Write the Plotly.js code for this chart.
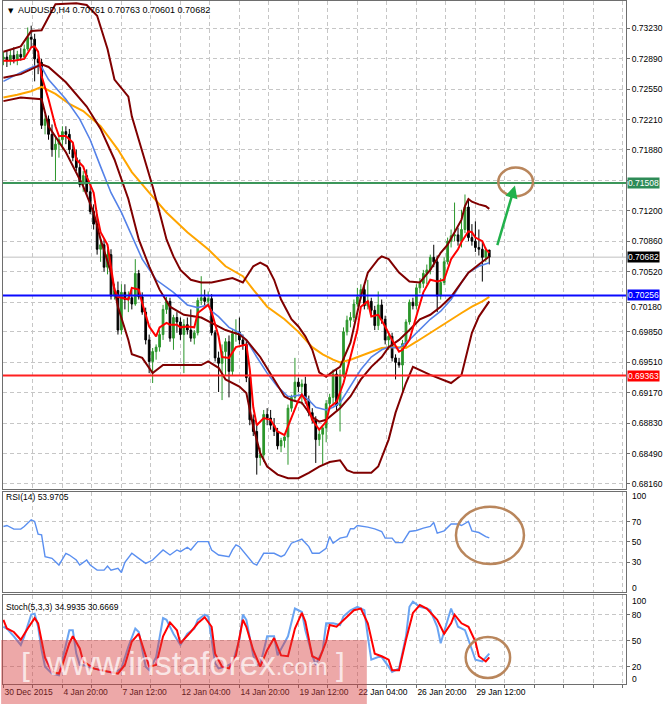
<!DOCTYPE html>
<html><head><meta charset="utf-8">
<script src="https://cdn.plot.ly/plotly-3.0.1.min.js"></script>
<style>html,body{margin:0;padding:0;background:#fff}#chart{width:665px;height:704px}</style>
</head><body><div id="chart"></div>
<script>
// ---------- price bars (AUDUSD H4) ----------
const barOpen = [0.7289,0.7291,0.7287,0.7293,0.7289,0.7294,0.7291,0.7300,0.7313,0.7311,
0.7289,0.7285,0.7215,0.7222,0.7205,0.7188,0.7194,0.7199,0.7208,0.7205,
0.7188,0.7179,0.7168,0.7149,0.7159,0.7141,0.7119,0.7105,0.7077,0.7082,
0.7057,0.7071,0.7025,0.7031,0.6987,0.7029,0.7021,0.7023,0.7016,0.7050,
0.7024,0.7007,0.6976,0.6952,0.6963,0.6968,0.6982,0.7010,0.7019,0.6978,
0.7001,0.6996,0.6982,0.6993,0.6987,0.6978,0.6984,0.7020,0.7023,0.7019,
0.7022,0.6984,0.6956,0.6950,0.6963,0.6974,0.6941,0.6983,0.6985,0.6976,
0.6971,0.6934,0.6887,0.6874,0.6845,0.6848,0.6893,0.6889,0.6881,0.6874,
0.6858,0.6864,0.6868,0.6900,0.6912,0.6929,0.6924,0.6927,0.6909,0.6895,
0.6887,0.6865,0.6871,0.6878,0.6905,0.6912,0.6938,0.6903,0.6937,0.6985,
0.6998,0.7001,0.7016,0.7024,0.7032,0.7014,0.7019,0.7009,0.6992,0.7015,
0.6999,0.6976,0.6980,0.6956,0.6951,0.6948,0.6972,0.6996,0.7018,0.7014,
0.7034,0.7039,0.7050,0.7054,0.7068,0.7063,0.7025,0.7040,0.7063,0.7086,
0.7092,0.7093,0.7086,0.7099,0.7124,0.7090,0.7086,0.7079,0.7077,0.7068,
0.70761];
const barHigh = [0.7297,0.7298,0.7300,0.7302,0.7298,0.7301,0.7305,0.7324,0.7326,0.7317,
0.7294,0.7289,0.7227,0.7226,0.7216,0.7202,0.7204,0.7214,0.7214,0.7211,
0.7194,0.7188,0.7177,0.7164,0.7166,0.7148,0.7127,0.7116,0.7090,0.7088,
0.7077,0.7077,0.7038,0.7041,0.7038,0.7038,0.7030,0.7032,0.7066,0.7054,
0.7029,0.7012,0.6982,0.6967,0.6971,0.6987,0.7015,0.7024,0.7023,0.7004,
0.7007,0.7001,0.6999,0.7001,0.7010,0.6987,0.7023,0.7047,0.7032,0.7030,
0.7027,0.6987,0.6963,0.6971,0.6978,0.6981,0.6987,0.6999,0.7001,0.6982,
0.6976,0.6938,0.6893,0.6881,0.6856,0.6898,0.6900,0.6898,0.6889,0.6878,
0.6867,0.6871,0.6904,0.6915,0.6956,0.6934,0.6932,0.6935,0.6914,0.6900,
0.6891,0.6878,0.6881,0.6909,0.6916,0.6943,0.6943,0.6943,0.6990,0.7003,
0.7007,0.7021,0.7034,0.7038,0.7037,0.7043,0.7023,0.7014,0.7030,0.7021,
0.7003,0.6983,0.6984,0.6960,0.6956,0.6976,0.6999,0.7021,0.7023,0.7038,
0.7045,0.7054,0.7060,0.7071,0.7082,0.7070,0.7045,0.7068,0.7090,0.7099,
0.7129,0.7101,0.7121,0.7138,0.7133,0.7105,0.7108,0.7099,0.7085,0.7079,
0.70763];
const barLow = [0.7282,0.7280,0.7282,0.7284,0.7282,0.7287,0.7289,0.7298,0.7302,0.7264,
0.7272,0.7211,0.7205,0.7199,0.7180,0.7153,0.7179,0.7188,0.7194,0.7183,
0.7175,0.7164,0.7146,0.7141,0.7137,0.7116,0.7099,0.7071,0.7063,0.7052,
0.7049,0.7021,0.7021,0.6982,0.6982,0.7010,0.7007,0.7010,0.7014,0.7021,
0.7004,0.6971,0.6939,0.6928,0.6954,0.6963,0.6976,0.7005,0.6974,0.6965,
0.6984,0.6976,0.6939,0.6982,0.6974,0.6971,0.6981,0.7015,0.7014,0.7014,
0.6981,0.6952,0.6918,0.6909,0.6937,0.6912,0.6937,0.6974,0.6971,0.6965,
0.6929,0.6881,0.6869,0.6826,0.6836,0.6840,0.6881,0.6876,0.6869,0.6854,
0.6851,0.6856,0.6837,0.6896,0.6907,0.6918,0.6904,0.6905,0.6891,0.6883,
0.6839,0.6858,0.6837,0.6862,0.6898,0.6903,0.6898,0.6874,0.6934,0.6981,
0.6990,0.6996,0.7013,0.7021,0.7010,0.7010,0.7004,0.6987,0.6987,0.6994,
0.6971,0.6965,0.6952,0.6932,0.6945,0.6917,0.6967,0.6993,0.7010,0.7010,
0.7028,0.7034,0.7038,0.7049,0.7057,0.7007,0.7021,0.7037,0.7060,0.7079,
0.7086,0.7081,0.7079,0.7095,0.7086,0.7081,0.7074,0.7070,0.7041,0.7063,
0.70601];
const barClose = [0.7291,0.7287,0.7293,0.7289,0.7294,0.7291,0.7300,0.7313,0.7311,0.7289,
0.7285,0.7215,0.7222,0.7205,0.7188,0.7194,0.7199,0.7208,0.7205,0.7188,
0.7179,0.7168,0.7149,0.7159,0.7141,0.7119,0.7105,0.7077,0.7082,0.7057,
0.7071,0.7025,0.7031,0.6987,0.7029,0.7021,0.7023,0.7016,0.7050,0.7024,
0.7007,0.6976,0.6952,0.6963,0.6968,0.6982,0.7010,0.7019,0.6978,0.7001,
0.6996,0.6982,0.6993,0.6987,0.6978,0.6984,0.7020,0.7023,0.7019,0.7022,
0.6984,0.6956,0.6950,0.6963,0.6974,0.6941,0.6983,0.6985,0.6976,0.6971,
0.6934,0.6887,0.6874,0.6845,0.6848,0.6893,0.6889,0.6881,0.6874,0.6858,
0.6864,0.6868,0.6900,0.6912,0.6929,0.6924,0.6927,0.6909,0.6895,0.6887,
0.6865,0.6871,0.6878,0.6905,0.6912,0.6938,0.6903,0.6937,0.6985,0.6998,
0.7001,0.7016,0.7024,0.7032,0.7014,0.7019,0.7009,0.6992,0.7015,0.6999,
0.6976,0.6980,0.6956,0.6951,0.6948,0.6972,0.6996,0.7018,0.7014,0.7034,
0.7039,0.7050,0.7054,0.7068,0.7063,0.7025,0.7040,0.7063,0.7086,0.7092,
0.7093,0.7086,0.7099,0.7124,0.7090,0.7086,0.7079,0.7077,0.7068,0.7076,
0.70682];

// ---------- indicator lines (bar index, value) ----------
const bbUpIdx = [0,5,8,11,15,21,24,27,30,32,36,37,39,41,43,45,47,49,51,54,57,60,64,66,69,72,74,76,78,80,83,85,87,89,91,93,95,97,100,103,105,108,109,111,114,117,120,123,126,128,130,132,133,134,135,137,139,140];
const bbUpVal = [0.7297,0.7303,0.7320,0.7321,0.7350,0.7351,0.7349,0.7337,0.7300,0.7266,0.7247,0.7225,0.7199,0.7174,0.7147,0.7118,0.7088,0.7069,0.7054,0.7043,0.7040,0.7040,0.7043,0.7045,0.7040,0.7058,0.7062,0.7058,0.7043,0.7021,0.6999,0.6991,0.6980,0.6965,0.6940,0.6935,0.6941,0.6946,0.6973,0.7024,0.7051,0.7066,0.7069,0.7066,0.7051,0.7041,0.7040,0.7054,0.7073,0.7082,0.7096,0.7110,0.7125,0.7133,0.7130,0.7127,0.7125,0.7122];
const bbMidIdx = [0,5,11,13,18,24,28,32,36,39,42,45,48,52,57,60,64,68,70,74,78,81,83,86,89,91,93,95,97,100,103,106,109,111,114,117,120,123,126,129,132,134,137,139,140];
const bbMidVal = [0.7268,0.7272,0.7283,0.7280,0.7263,0.7236,0.7211,0.7177,0.7133,0.7088,0.7058,0.7032,0.7013,0.7004,0.7001,0.6995,0.6987,0.6982,0.6976,0.6957,0.6932,0.6913,0.6909,0.6906,0.6890,0.6885,0.6887,0.6893,0.6900,0.6913,0.6932,0.6946,0.6957,0.6968,0.6976,0.6987,0.6999,0.7004,0.7013,0.7024,0.7040,0.7051,0.7060,0.7066,0.7069];
const bbLowIdx = [0,5,11,13,18,23,26,28,31,33,36,37,40,43,46,51,57,59,62,64,68,70,72,74,76,79,82,85,88,91,94,97,99,101,106,108,111,113,116,118,123,129,132,135,137,140];
const bbLowVal = [0.7242,0.7246,0.7244,0.7214,0.7185,0.7147,0.7118,0.7088,0.7051,0.7013,0.6976,0.6960,0.6956,0.6939,0.6948,0.6948,0.6948,0.6952,0.6945,0.6932,0.6924,0.6917,0.6879,0.6850,0.6835,0.6826,0.6822,0.6822,0.6828,0.6835,0.6840,0.6842,0.6831,0.6828,0.6828,0.6835,0.6865,0.6895,0.6928,0.6946,0.6937,0.6928,0.6937,0.6984,0.7002,0.7019];
const maRedIdx = [0,3,6,8,9,10,11,13,15,16,18,20,21,23,24,26,27,28,30,31,32,33,34,36,37,39,40,42,44,45,47,48,50,51,53,55,56,59,60,62,63,65,67,70,71,72,73,75,77,79,81,83,85,86,87,89,91,93,94,96,98,100,102,103,105,106,108,110,112,114,115,117,119,121,123,125,127,129,131,132,134,135,136,138,139,140];
const maRedVal = [0.7287,0.7287,0.7289,0.7302,0.7303,0.7297,0.7270,0.7244,0.7214,0.7203,0.7203,0.7196,0.7177,0.7169,0.7158,0.7140,0.7114,0.7096,0.7082,0.7058,0.7032,0.7024,0.7023,0.7021,0.7034,0.7032,0.7017,0.6991,0.6980,0.6990,0.6995,0.6993,0.6993,0.6990,0.6991,0.6990,0.7006,0.7015,0.7007,0.6980,0.6957,0.6956,0.6968,0.6971,0.6943,0.6901,0.6881,0.6889,0.6887,0.6874,0.6870,0.6890,0.6909,0.6915,0.6909,0.6887,0.6876,0.6885,0.6901,0.6907,0.6928,0.6957,0.6987,0.7013,0.7019,0.7002,0.7004,0.6991,0.6976,0.6963,0.6965,0.6976,0.7002,0.7029,0.7043,0.7041,0.7043,0.7066,0.7077,0.7085,0.7097,0.7096,0.7090,0.7086,0.7077,0.7073];
const maBlueIdx = [0,5,9,11,13,18,22,25,28,31,34,37,40,44,47,49,53,56,59,60,62,65,68,70,73,76,79,82,83,86,88,90,93,95,97,100,103,106,109,111,114,117,120,123,126,129,132,134,137,140];
const maBlueVal = [0.7264,0.7274,0.7281,0.7280,0.7266,0.7244,0.7222,0.7199,0.7169,0.7140,0.7118,0.7091,0.7066,0.7043,0.7035,0.7029,0.7015,0.7012,0.7015,0.7008,0.7002,0.6990,0.6984,0.6976,0.6957,0.6939,0.6924,0.6913,0.6913,0.6915,0.6909,0.6901,0.6898,0.6901,0.6906,0.6924,0.6943,0.6957,0.6965,0.6968,0.6967,0.6976,0.6987,0.6999,0.7008,0.7021,0.7040,0.7051,0.7058,0.7062];
const maOrangeIdx = [0,4,8,11,15,19,23,28,33,37,42,47,53,59,64,69,72,76,81,85,89,92,95,97,100,104,109,113,116,119,123,126,129,132,135,138,140];
const maOrangeVal = [0.7246,0.7249,0.7253,0.7258,0.7250,0.7239,0.7231,0.7214,0.7188,0.7163,0.7140,0.7118,0.7096,0.7077,0.7058,0.7047,0.7032,0.7013,0.6999,0.6985,0.6968,0.6960,0.6954,0.6951,0.6954,0.6960,0.6967,0.6968,0.6967,0.6974,0.6984,0.6991,0.6999,0.7006,0.7013,0.7019,0.7024];

// ---------- RSI(14) ----------
const rsiIdx = [0,1,3,5,6,8,9,10,11,12,14,16,18,19,21,22,24,25,27,29,30,31,33,34,35,37,39,41,43,46,48,50,51,53,54,56,59,60,62,65,66,67,68,70,72,73,75,78,80,81,83,86,88,89,91,93,94,95,97,99,100,101,102,105,107,109,110,112,113,115,117,119,121,123,124,125,127,129,131,132,134,135,137,139,140];
const rsiVal = [65.3,66.3,62.7,62.7,65.3,72,70.3,57.7,57,35.3,33.7,27,38.7,37,32,27,32,27,22,22,26,22,23.7,19.7,29.7,38.7,33.7,28.7,32,42,37,42,40.3,44.7,42,50.3,50.3,42,37,35.3,42,47,45.3,37,28.7,27,38.7,38.7,35.3,37,48.7,52.7,45.3,38.7,38.7,43.7,55.3,48.7,53.7,55.3,63,63,66.3,64.7,63,60.3,53.7,53.7,49.3,49.3,60.3,61.3,63.7,65.3,69.3,58.7,61,67.7,67.7,66.3,70.3,61,59.3,55.3,53.9705];

// ---------- Stochastic(5,3,3) ----------
const stochKIdx = [0,1,3,5,6,8,9,10,11,12,14,16,17,19,20,21,22,23,25,28,30,32,34,36,38,39,41,42,44,46,47,49,51,53,55,56,58,59,60,61,62,64,66,68,69,70,72,73,74,76,78,79,82,84,86,87,89,90,92,93,95,97,98,100,102,104,105,106,108,109,111,112,114,116,117,118,120,122,123,125,126,128,129,131,133,134,136,138,140];
const stochKVal = [66,64,55,45,55,80,81,66,39,20,12,10,28,62,62,35,22,22,19,16,14,13,18,43,64,60,20,16,31,76,74,58,45,58,64,74,80,78,51,24,18,20,24,51,80,74,33,22,22,55,55,33,55,87,83,62,33,22,39,70,70,68,78,85,89,85,55,28,31,31,20,14,18,55,89,95,89,87,85,66,47,74,87,66,62,51,28,26,34.9935];
const stochDIdx = [0,1,3,5,7,9,10,11,12,14,16,17,19,20,22,23,26,28,31,33,35,37,39,40,42,44,46,48,50,51,54,56,58,60,61,63,65,67,69,70,72,74,76,78,80,82,84,86,87,89,91,93,94,96,97,99,101,103,105,107,109,111,112,114,116,118,120,122,123,125,127,129,130,132,134,136,137,139,140];
const stochDVal = [74,64,60,51,64,76,70,51,30,14,12,22,47,55,41,26,18,16,14,12,22,49,58,45,20,22,55,71,62,47,60,70,77,66,35,20,18,33,74,66,39,20,39,53,33,32,64,82,72,32,28,49,68,66,70,78,85,87,70,35,32,28,16,16,51,82,91,87,83,74,58,70,80,70,66,49,32,26,30.6669];

// ---------- axes / levels ----------
const xLabelIdx = [0,17,34,51,68,85,102,119,136];
const xLabels = ["30 Dec 2015","4 Jan 20:00","7 Jan 12:00","12 Jan 04:00","14 Jan 20:00","19 Jan 12:00","22 Jan 04:00","26 Jan 20:00","29 Jan 12:00"];
const yTickVals = [0.73230,0.72890,0.72550,0.72210,0.71880,0.71540,0.71200,0.70860,0.70520,0.70180,0.69850,0.69510,0.69170,0.68830,0.68490,0.68160];
const yTickText = ["0.73230","0.72890","0.72550","0.72210","0.71880","","0.71200","0.70860","0.70520","0.70180","0.69850","0.69510","0.69170","0.68830","0.68490","0.68160"];
const levelPrices = [0.71508, 0.70256, 0.69363];
const levelLineColors = ["#3c965a", "#0a0aff", "#ff2020"];
const levelBoxColors = ["#2e8b57", "#0000ff", "#ff0000"];
const rsiLevels = [30, 50, 70];
const stochLevels = [20, 50, 80];

// ---------- build ----------
const barIdx = barClose.map((_, i) => i);
const last = barClose.length - 1;
const gridStep = (xLabelIdx[1] - xLabelIdx[0]) / 2;
const gridIdx = []; const gridText = [];
for (let k = 0; k * gridStep <= 179; k++) {
  gridIdx.push(k * gridStep);
  const li = xLabelIdx.indexOf(k * gridStep);
  gridText.push(li >= 0 ? xLabels[li] : "");
}
// the price-axis label that sits just under a level box is drawn a little lower so it stays readable
const nudged = yTickText.map((t, k) => {
  const close = levelPrices.concat([barClose[last]]).some(p => p > yTickVals[k] && p - yTickVals[k] < 0.0009);
  return close ? k : -1;
}).filter(k => k >= 0);
const axisText = yTickText.map((t, k) => nudged.indexOf(k) >= 0 ? "" : t);

const FONT = "Liberation Sans, Arial, sans-serif";
const BB = "#800000";
function line(x, y, color, width, xa, ya) {
  return {type: "scatter", mode: "lines", x: x, y: y, xaxis: xa, yaxis: ya,
    line: {color: color, width: width}, hoverinfo: "skip"};
}
const traces = [
  {type: "candlestick", x: barIdx, open: barOpen, high: barHigh, low: barLow, close: barClose,
   xaxis: "x", yaxis: "y", whiskerwidth: 0,
   increasing: {line: {color: "#2b962b", width: 1}, fillcolor: "#2b962b"},
   decreasing: {line: {color: "#000000", width: 1}, fillcolor: "#000000"}, hoverinfo: "skip"},
  line(maOrangeIdx, maOrangeVal, "#ffa500", 2, "x", "y"),
  line(maBlueIdx, maBlueVal, "#5582e8", 1.6, "x", "y"),
  line(bbUpIdx, bbUpVal, BB, 2, "x", "y"),
  line(bbMidIdx, bbMidVal, BB, 2, "x", "y"),
  line(bbLowIdx, bbLowVal, BB, 2, "x", "y"),
  line(maRedIdx, maRedVal, "#ff0000", 2, "x", "y"),
  line(rsiIdx, rsiVal, "#5a8ff0", 1.4, "x2", "y2"),
  line(stochKIdx, stochKVal, "#6aa4f2", 2, "x3", "y3"),
  line(stochDIdx, stochDVal, "#ff0000", 2, "x3", "y3")
];

const grid = {showgrid: true, gridcolor: "#c6c6c6", griddash: "4px,3px", gridwidth: 1,
  zeroline: false, showline: true, mirror: true, linecolor: "#6e6e6e", linewidth: 1, fixedrange: true};
const xBase = Object.assign({}, grid, {tickmode: "array", tickvals: gridIdx, ticktext: gridText,
  showticklabels: false, ticks: ""});
const yBase = Object.assign({}, grid, {side: "right", tickmode: "array", ticks: "outside", ticklen: 3,
  tickcolor: "#6e6e6e", tickfont: {family: FONT, size: 8.5, color: "#000"}});

const layout = {
  width: 665, height: 704, margin: {l: 3, r: 39, t: 1, b: 20},
  paper_bgcolor: "#ffffff", plot_bgcolor: "#ffffff", showlegend: false, hovermode: false,
  font: {family: FONT, size: 8.5, color: "#000"},
  xaxis: Object.assign({}, xBase, {anchor: "y", range: [-0.12, 179.4], rangeslider: {visible: false}}),
  xaxis2: Object.assign({}, xBase, {anchor: "y2", matches: "x"}),
  xaxis3: Object.assign({}, xBase, {anchor: "y3", matches: "x", showticklabels: true,
    ticklabelposition: "outside right", ticks: "outside", ticklen: 3, tickcolor: "#6e6e6e",
    tickfont: {family: FONT, size: 8.5, color: "#000"}}),
  yaxis: Object.assign({}, yBase, {domain: [0.2862, 1], anchor: "x", range: [0.68105, 0.73535],
    tickvals: yTickVals, ticktext: axisText}),
  yaxis2: Object.assign({}, yBase, {domain: [0.1343, 0.2818], anchor: "x2", range: [0, 100],
    tickvals: rsiLevels, ticktext: rsiLevels.map(String)}),
  yaxis3: Object.assign({}, yBase, {domain: [0, 0.1299], anchor: "x3", range: [0, 102.3],
    tickvals: stochLevels, ticktext: stochLevels.map(String)}),
  shapes: [], annotations: []
};
nudged.forEach(k => {
  layout.annotations.push({xref: "paper", x: 1, xanchor: "left", xshift: 4, yref: "y", y: yTickVals[k],
    yanchor: "top", yshift: 1, text: yTickText[k], showarrow: false, borderpad: 0,
    font: {family: FONT, size: 8.5, color: "#000"}});
});

// current price line
layout.shapes.push({type: "line", xref: "paper", x0: 0, x1: 1, yref: "y", y0: barClose[last], y1: barClose[last],
  line: {color: "#c0c0c0", width: 1}, layer: "below"});
// horizontal levels + price boxes
levelPrices.forEach((p, k) => {
  layout.shapes.push({type: "line", xref: "paper", x0: 0, x1: 1, yref: "y", y0: p, y1: p,
    line: {color: levelLineColors[k], width: 2}, layer: "above"});
  layout.annotations.push({xref: "paper", x: 1, xanchor: "left", xshift: 1, yref: "y", y: p,
    text: p.toFixed(5), showarrow: false, bgcolor: levelBoxColors[k], borderpad: 0,
    font: {family: FONT, size: 8.5, color: "#ffffff"}});
});
layout.annotations.push({xref: "paper", x: 1, xanchor: "left", xshift: 1, yref: "y", y: barClose[last],
  text: barClose[last].toFixed(5), showarrow: false, bgcolor: "#000000", borderpad: 0,
  font: {family: FONT, size: 8.5, color: "#ffffff"}});

// hand-drawn marks
const brown = "#b9865c";
layout.shapes.push({type: "circle", xref: "x", yref: "y", x0: 142.6, x1: 152.6, y0: 0.7136, y1: 0.7168,
  line: {color: brown, width: 2.5}, layer: "above"});
layout.shapes.push({type: "circle", xref: "x2", yref: "y2", x0: 130.4, x1: 150, y0: 28, y1: 85,
  line: {color: brown, width: 2.5}, layer: "above"});
layout.shapes.push({type: "circle", xref: "x3", yref: "y3", x0: 133.2, x1: 146, y0: 6.9, y1: 54.2,
  line: {color: brown, width: 2.5}, layer: "above"});
layout.annotations.push({xref: "x", yref: "y", x: 147.4, y: 0.7148, axref: "x", ayref: "y",
  ax: 142.2, ay: 0.7080, text: "", showarrow: true, arrowhead: 2, arrowsize: 1, arrowwidth: 2.5,
  arrowcolor: "#22b14c", standoff: 0});

// panel titles
layout.annotations.push({xref: "paper", yref: "paper", x: 0, y: 1, xanchor: "left", yanchor: "top",
  xshift: 3, yshift: -4, text: "▼", showarrow: false, font: {family: "DejaVu Sans", size: 7, color: "#000"}});
layout.annotations.push({xref: "paper", yref: "paper", x: 0, y: 1, xanchor: "left", yanchor: "top",
  xshift: 13, yshift: -2, showarrow: false, font: {family: FONT, size: 9, color: "#000"},
  text: "AUDUSD,H4 " + [barOpen[last], barHigh[last], barLow[last], barClose[last]].map(v => v.toFixed(5)).join(" ")});
layout.annotations.push({xref: "paper", yref: "paper", x: 0, y: 0.2738, xanchor: "left", yanchor: "middle",
  xshift: 1, showarrow: false, font: {family: FONT, size: 8.5, color: "#000"},
  text: "RSI(14) " + rsiVal[rsiVal.length - 1].toFixed(4)});
layout.annotations.push({xref: "paper", yref: "paper", x: 0, y: 0.1127, xanchor: "left", yanchor: "middle",
  xshift: 1, showarrow: false, font: {family: FONT, size: 8.5, color: "#000"},
  text: "Stoch(5,3,3) " + stochKVal[stochKVal.length - 1].toFixed(4) + " " + stochDVal[stochDVal.length - 1].toFixed(4)});
// edge labels of the oscillator scales (drawn inside the panel like the terminal)
[["y2", 96, "100"], ["y2", 4.3, "0"], ["y3", 95.8, "100"], ["y3", 5.4, "0"]].forEach(a => {
  layout.annotations.push({xref: "paper", x: 1, xanchor: "left", xshift: 4, yref: a[0], y: a[1],
    text: a[2], showarrow: false, font: {family: FONT, size: 8.5, color: "#000"}});
});

// watermark (kept above the time labels)
layout.shapes.push({type: "rect", xref: "paper", yref: "paper", x0: -0.003, x1: 0.584, y0: -0.03, y1: 0.0644,
  fillcolor: "rgba(214,62,62,0.45)", line: {width: 0}, layer: "above"});
const wmColor = "rgba(255,255,255,0.72)";
layout.annotations.push({xref: "paper", yref: "paper", x: 0.0369, y: 0.001, xanchor: "center", yanchor: "bottom",
  text: "[", showarrow: false, borderpad: 0, font: {family: FONT, size: 32, color: wmColor}});
layout.annotations.push({xref: "paper", yref: "paper", x: 0.5425, y: 0.001, xanchor: "center", yanchor: "bottom",
  text: "]", showarrow: false, borderpad: 0, font: {family: FONT, size: 32, color: wmColor}});
layout.annotations.push({xref: "paper", yref: "paper", x: 0.0674, y: 0.001, xanchor: "left", yanchor: "bottom",
  text: "www.instaforex<span style=\"font-size:24px\">.com</span>", showarrow: false, borderpad: 0,
  font: {family: FONT, size: 34, color: wmColor}});

Plotly.newPlot("chart", traces, layout, {displayModeBar: false, staticPlot: true});
</script>
</body></html>
